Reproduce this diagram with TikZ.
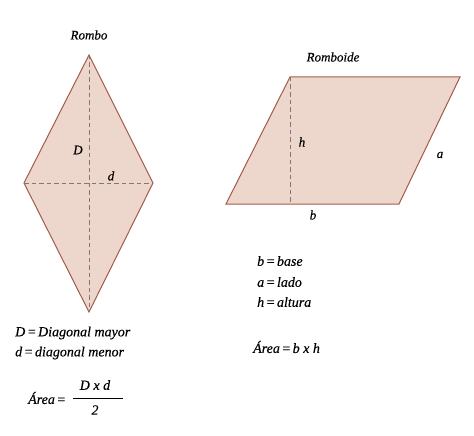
\documentclass[tikz,border=0pt]{standalone}
\usepackage{fontspec}
\setmainfont[FakeBold=0.35]{Liberation Serif}
\begin{document}
\begin{tikzpicture}[x=1pt,y=-1pt,
  figbox/.style={draw=edge,fill=fillc,line width=1pt,line join=miter},
  guide/.style={draw=guidec,dashed,dash pattern=on 4.5pt off 3pt,line width=0.8pt},
  lbl/.style={font=\itshape\fontsize{13}{15}\selectfont,inner sep=0pt},
  txt/.style={font=\itshape\fontsize{14}{16}\selectfont,inner sep=0pt,anchor=west}]
\definecolor{edge}{HTML}{A35A4A}
\definecolor{fillc}{HTML}{EDD7CC}
\definecolor{guidec}{HTML}{857670}
\newcommand{\eqs}{\hspace{0.12em}=\hspace{0.12em}}
\useasboundingbox (0,0) rectangle (474,436);
% rombo
\coordinate (rt) at (89,55);
\coordinate (rl) at (24,183);
\coordinate (rr) at (153,183);
\coordinate (rb) at (89,312);
\path[figbox] (rt) -- (rr) -- (rb) -- (rl) -- cycle;
\draw[guide] (rt) -- (rb);
\draw[guide] (rl) -- (rr);
\node[lbl] (rombo) at (89,35) {Rombo};
\node[lbl] (lD) at (78,150) {D};
\node[lbl] (ld) at (111,176) {d};
% romboide
\coordinate (pa) at (290,77);
\coordinate (pb) at (460,77);
\coordinate (pc) at (399,204);
\coordinate (pd) at (226,204);
\coordinate (ph) at (290,204);
\path[figbox] (pa) -- (pb) -- (pc) -- (pd) -- cycle;
\draw[guide] (pa) -- (ph);
\node[lbl] (romboide) at (333,57) {Romboide};
\node[lbl] (lh) at (302,142) {h};
\node[lbl] (la) at (440,155) {a};
\node[lbl] (lb) at (313,215) {b};
% textos
\node[txt] (t1) at (15,333) {D\eqs Diagonal mayor};
\node[txt] (t2) at (15,353) {d\eqs diagonal menor};
\node[txt] (t3) at (28,398) {Área\eqs};
\node[txt,anchor=center] (num) at (95,385) {D x d};
\node[txt,anchor=center] (den) at (95,410) {2};
\draw[line width=0.6pt] (73,398) -- (123,398);
\node[txt] (t4) at (257,261) {b\eqs base};
\node[txt] (t5) at (257,282) {a\eqs lado};
\node[txt] (t6) at (257,302) {h\eqs altura};
\node[txt] (t7) at (253,347) {Área\eqs b x h};
\end{tikzpicture}
\end{document}
